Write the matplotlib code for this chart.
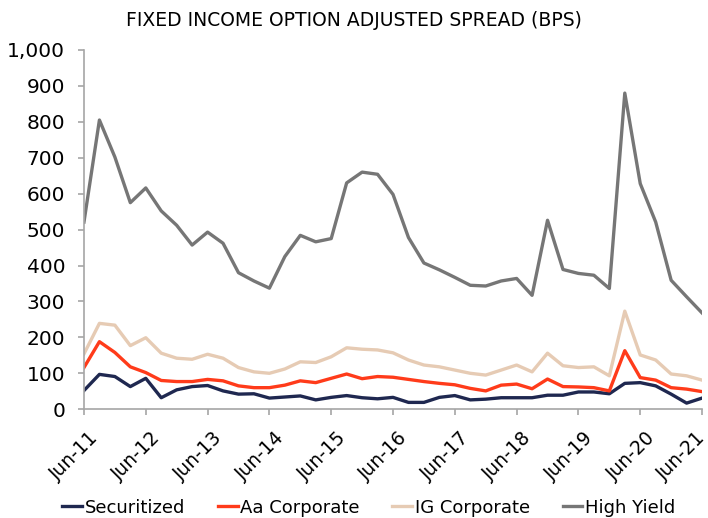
import matplotlib.pyplot as plt
import matplotlib.transforms as mtransforms
import numpy as np

# quarterly, Jun-11 .. Jun-21
tick_labels = ['Jun-11', 'Jun-12', 'Jun-13', 'Jun-14', 'Jun-15', 'Jun-16',
               'Jun-17', 'Jun-18', 'Jun-19', 'Jun-20', 'Jun-21']

securitized = [52, 97, 91, 63, 86, 32, 54, 63, 66, 51, 42, 43, 31, 34, 37, 26, 33,
               38, 32, 29, 33, 19, 19, 33, 38, 26, 28, 32, 32, 32, 39, 39, 48, 48,
               43, 72, 74, 65, 42, 17, 31]
aa_corp = [116, 188, 158, 118, 102, 80, 77, 77, 83, 79, 65, 60, 60, 67, 79, 74, 86,
           98, 85, 91, 89, 83, 77, 72, 68, 58, 51, 67, 70, 57, 84, 63, 62, 60,
           51, 163, 88, 81, 60, 56, 49]
ig_corp = [154, 239, 234, 177, 199, 156, 142, 139, 153, 142, 116, 104, 100, 112, 132,
           130, 146, 171, 167, 165, 157, 137, 123, 118, 109, 100, 95, 109, 123, 104,
           156, 121, 116, 118, 93, 273, 151, 137, 98, 93, 81]
high_yield = [521, 805, 702, 575, 616, 552, 512, 457, 493, 462, 380, 357, 337, 425,
              484, 466, 475, 630, 660, 654, 598, 478, 407, 388, 367, 345, 343, 357,
              364, 317, 526, 389, 378, 373, 336, 880, 628, 521, 359, 313, 268]

x = np.arange(len(high_yield))

fig = plt.figure(figsize=(7.08, 5.18), dpi=100)
ax = fig.add_axes([0.1186, 0.21, 0.873, 0.6935])

lw = 2.4
ax.plot(x, securitized, color='#1f2850', lw=lw, label='Securitized')
ax.plot(x, aa_corp, color='#ff3b1a', lw=lw, label='Aa Corporate')
ax.plot(x, ig_corp, color='#e6cbb4', lw=lw, label='IG Corporate')
ax.plot(x, high_yield, color='#767676', lw=lw, label='High Yield')

ax.set_xlim(0, 40)
ax.set_ylim(0, 1000)
ax.set_yticks(range(0, 1001, 100))
ax.set_yticklabels([f'{v:,}' for v in range(0, 1001, 100)], fontsize=14.5)
ax.set_xticks(np.arange(0, 41, 4))
ax.set_xticklabels(tick_labels, rotation=45, ha='right', rotation_mode='anchor',
                   fontsize=13.5)

for s in ['top', 'right']:
    ax.spines[s].set_visible(False)
for s in ['left', 'bottom']:
    ax.spines[s].set_color('#a6a6a6')
    ax.spines[s].set_linewidth(1.2)
ax.tick_params(axis='both', direction='out', length=4.5, color='#a6a6a6', width=1.2)
ax.tick_params(axis='y', pad=9)
ax.tick_params(axis='x', pad=9)

# nudge the rotated labels a little to the right of their ticks,
# except the last one which would run off the figure
labels = ax.get_xticklabels()
for lab in labels[:-1]:
    lab.set_transform(lab.get_transform() +
                      mtransforms.ScaledTranslation(0.05, 0, fig.dpi_scale_trans))
labels[-1].set_transform(labels[-1].get_transform() +
                         mtransforms.ScaledTranslation(-0.06, 0, fig.dpi_scale_trans))

fig.text(0.5, 0.961, 'FIXED INCOME OPTION ADJUSTED SPREAD (BPS)', fontsize=13.5,
         ha='center', va='center')

ax.legend(loc='center', bbox_to_anchor=(0.521, 0.02), bbox_transform=fig.transFigure,
          ncol=4, frameon=False, fontsize=13, handlelength=1.1, handletextpad=0.15,
          columnspacing=1.8, borderaxespad=0)

fig.savefig('out.png', dpi=100)
